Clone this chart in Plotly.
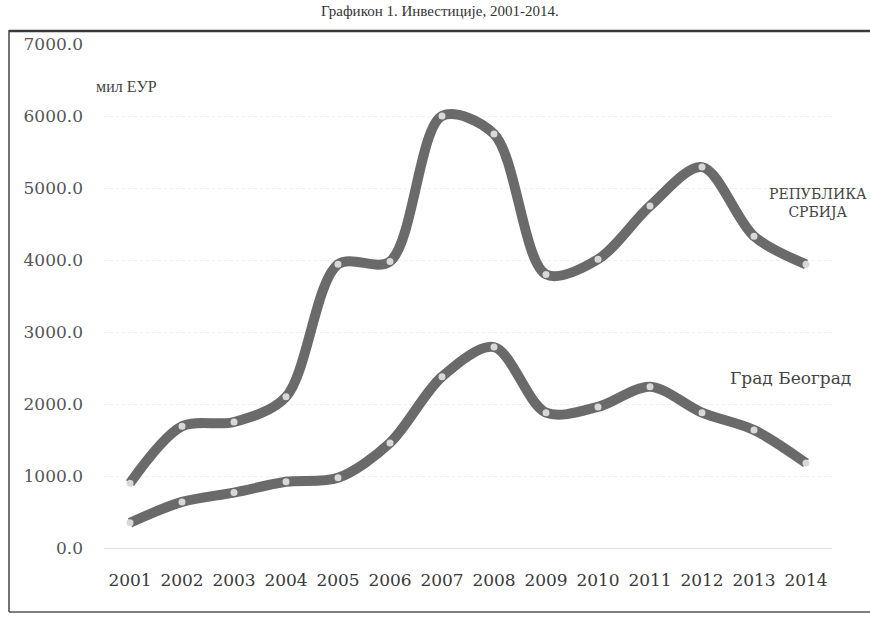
import plotly.graph_objects as go

years = ["2001", "2002", "2003", "2004", "2005", "2006", "2007",
         "2008", "2009", "2010", "2011", "2012", "2013", "2014"]
serbia = [900, 1690, 1750, 2100, 3940, 3980, 6000,
          5750, 3800, 4010, 4750, 5290, 4330, 3940]
belgrade = [350, 640, 770, 920, 975, 1460, 2380,
            2790, 1880, 1960, 2240, 1880, 1640, 1180]
y_ticks = [0, 1000, 2000, 3000, 4000, 5000, 6000, 7000]

W, H = 870, 627
L, R, T, B = 104, 38, 44, 79
pw, ph = W - L - R, H - T - B


def px(x):
    return (x - L) / pw


def py(y):
    return (H - B - y) / ph


FONT = "DejaVu Serif"
LINE_COL = "#6a6a6a"

fig = go.Figure()
for name, vals in [("Република Србија", serbia), ("Град Београд", belgrade)]:
    fig.add_trace(go.Scatter(
        x=years, y=vals, name=name, mode="lines+markers",
        line=dict(color=LINE_COL, width=10, shape="spline", smoothing=0.9),
        marker=dict(color="#d8d8d8", size=7, line=dict(width=0)),
        showlegend=False,
    ))

fig.update_layout(
    width=W, height=H,
    margin=dict(l=L, r=R, t=T, b=B),
    paper_bgcolor="white", plot_bgcolor="white",
    font=dict(family=FONT, size=14, color="#444"),
    xaxis=dict(type="category", range=[-0.5, 13.5], showgrid=False,
               showline=False, zeroline=False, ticks="",
               ticklabelstandoff=20,
               tickfont=dict(family=FONT, size=17, color="#3a3a3a")),
    yaxis=dict(range=[0, 7000], tickvals=y_ticks,
               ticktext=[f"{v:.1f}" for v in y_ticks],
               showgrid=True, gridcolor="#eeeeee", griddash="dot",
               zeroline=True, zerolinecolor="#dddddd", zerolinewidth=1,
               showline=False, ticks="", ticklabelstandoff=20,
               tickfont=dict(family=FONT, size=17, color="#555")),
)

# scanned frame lines
fig.add_shape(type="line", xref="paper", yref="paper",
              x0=px(9), x1=px(870), y0=py(31), y1=py(31),
              line=dict(color="#3a3a3a", width=2.5))
fig.add_shape(type="line", xref="paper", yref="paper",
              x0=px(9), x1=px(9), y0=py(30), y1=py(612),
              line=dict(color="#444", width=1.5))
fig.add_shape(type="line", xref="paper", yref="paper",
              x0=px(9), x1=px(870), y0=py(612), y1=py(612),
              line=dict(color="#555", width=1.5))

fig.add_annotation(text="Графикон 1. Инвестиције, 2001-2014.",
                   xref="paper", yref="paper", x=px(440), y=py(21),
                   xanchor="center", yanchor="bottom", showarrow=False,
                   font=dict(family="Liberation Serif", size=15, color="#333"))
fig.add_annotation(text="мил ЕУР", xref="paper", yref="paper",
                   x=px(126), y=py(86), xanchor="center", yanchor="middle",
                   showarrow=False,
                   font=dict(family="Liberation Serif", size=16, color="#444"))
fig.add_annotation(text="РЕПУБЛИКА<br>СРБИЈА", xref="paper", yref="paper",
                   x=px(818), y=py(203), xanchor="center", yanchor="middle",
                   showarrow=False, align="center",
                   font=dict(family=FONT, size=14, color="#444"))
fig.add_annotation(text="Град Београд", xref="paper", yref="paper",
                   x=px(790), y=py(378), xanchor="center", yanchor="middle",
                   showarrow=False, font=dict(family=FONT, size=17, color="#444"))

fig.write_html("out.html", config={"displayModeBar": False},
               post_script="document.body.style.margin='0';"
                           "document.body.style.padding='0';")
